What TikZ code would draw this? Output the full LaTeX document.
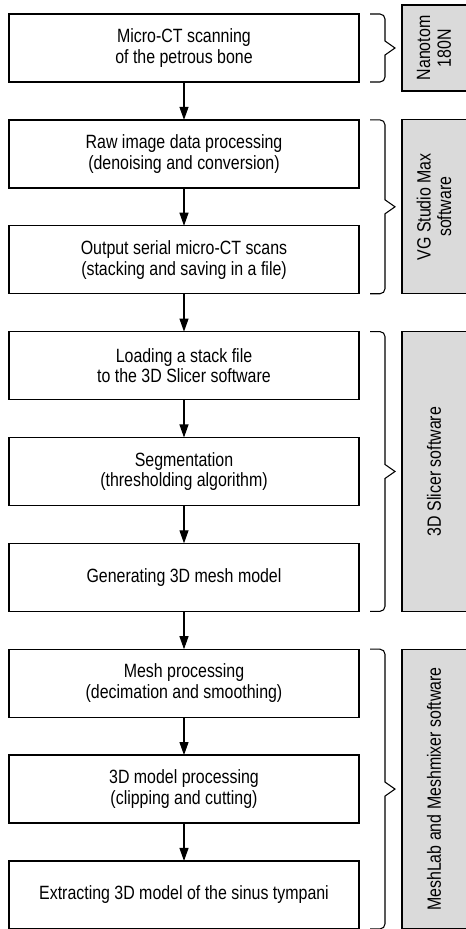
\documentclass[tikz,border=0pt]{standalone}
\usepackage{fontspec}
\setmainfont{Liberation Sans}[FakeStretch=0.83]
\usepackage{tikz}
\usetikzlibrary{arrows.meta, positioning, calc}
\definecolor{toolgray}{RGB}{218,218,218}

\begin{document}
\begin{tikzpicture}[>=Stealth,
  stepbox/.style={draw, line width=0.95pt, minimum width=262.5pt, minimum height=51pt,
    outer sep=0pt, align=center, inner sep=2pt, font=\fontsize{14.4}{15.5}\selectfont},
  flow/.style={-{Triangle[length=9.75pt,width=6.75pt]}, line width=0.8pt},
  bracket/.style={line width=0.8pt},
  toolbox/.style={draw, fill=toolgray, line width=0.8pt},
  tooltext/.style={rotate=90, align=center, font=\fontsize{14.4}{15.5}\selectfont},
  node distance=28.4pt]
  \fill[white] (0,0) rectangle (349.5pt,-696.75pt);
  \useasboundingbox (0,0) rectangle (349.5pt,-696.75pt);
  % process steps
  \node[stepbox] (b1) at (138pt,-36pt) {Micro-CT scanning\\of the petrous bone};
  \node[stepbox, below=of b1] (b2) {Raw image data processing\\(denoising and conversion)};
  \node[stepbox, below=of b2] (b3) {Output serial micro-CT scans\\(stacking and saving in a file)};
  \node[stepbox, below=of b3] (b4) {Loading a stack file\\to the 3D Slicer software};
  \node[stepbox, below=of b4] (b5) {Segmentation\\(thresholding algorithm)};
  \node[stepbox, below=of b5] (b6) {Generating 3D mesh model};
  \node[stepbox, below=of b6] (b7) {Mesh processing\\(decimation and smoothing)};
  \node[stepbox, below=of b7] (b8) {3D model processing\\(clipping and cutting)};
  \node[stepbox, below=of b8] (b9) {Extracting 3D model of the sinus tympani};
  \foreach \i [count=\j from 2] in {1,...,8}
    \draw[flow] (b\i) -- (b\j);
  % braces and software
  \foreach \a/\b/\ext/\txt in {b1/b1/6.75pt/{Nanotom\\180N}, b2/b3/0pt/{VG Studio Max\\software},
      b4/b6/0pt/{3D Slicer software}, b7/b9/0pt/{MeshLab and Meshmixer software}}{
    \coordinate (top) at ([xshift=8.25pt]\a.north east);
    \coordinate (bot) at ([xshift=8.25pt]\b.south east);
    \coordinate (mid) at ($(top)!0.5!(bot)$);
    \draw[bracket] (top) -- ++(7.5pt,0) arc[start angle=90, end angle=0, radius=3.75pt]
      -- ([xshift=11.25pt, yshift=5.25pt]mid) -- ([xshift=18.75pt]mid)
      -- ([xshift=11.25pt, yshift=-5.25pt]mid) -- ([xshift=11.25pt, yshift=3.75pt]bot)
      arc[start angle=0, end angle=-90, radius=3.75pt] -- (bot);
    \draw[toolbox] ([xshift=24pt, yshift=\ext]top) rectangle ([xshift=74pt, yshift=-\ext]bot);
    \node[tooltext] at ([xshift=48pt]mid) {\txt};
  }
\end{tikzpicture}
\end{document}
